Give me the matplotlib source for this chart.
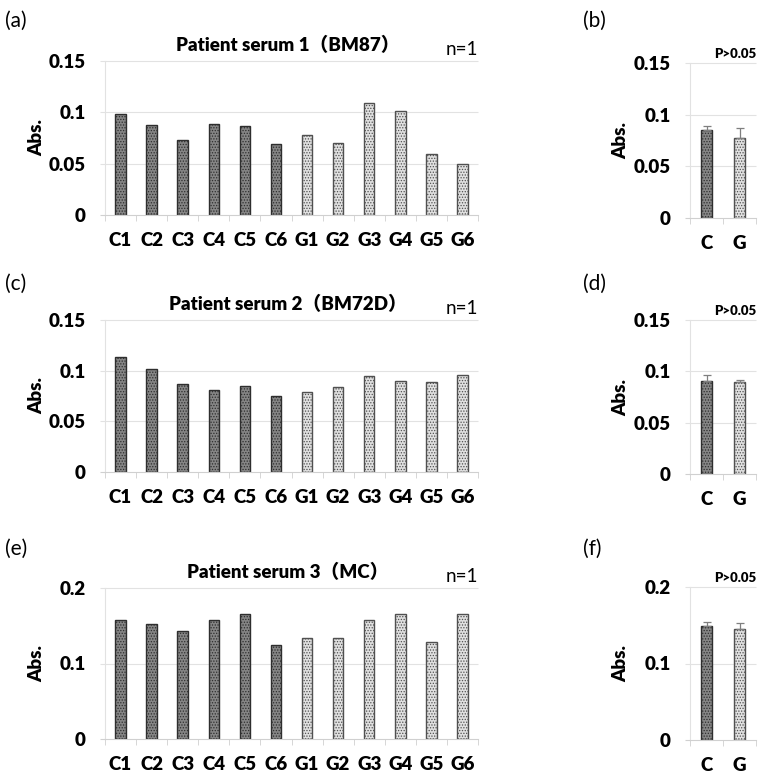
import numpy as np
import matplotlib
matplotlib.use('Agg')
import matplotlib.pyplot as plt

plt.rcParams['font.family'] = ['Lato', 'Noto Sans CJK JP', 'DejaVu Sans']
plt.rcParams['hatch.linewidth'] = 0.6

# well data (n=1 per well)
categories = ['C1', 'C2', 'C3', 'C4', 'C5', 'C6',
              'G1', 'G2', 'G3', 'G4', 'G5', 'G6']
serum1 = [0.098, 0.088, 0.073, 0.089, 0.087, 0.069,
          0.078, 0.070, 0.109, 0.101, 0.059, 0.050]
serum2 = [0.113, 0.102, 0.087, 0.081, 0.085, 0.075,
          0.079, 0.084, 0.095, 0.090, 0.089, 0.096]
serum3 = [0.158, 0.152, 0.143, 0.157, 0.166, 0.125,
          0.134, 0.134, 0.157, 0.166, 0.128, 0.165]
titles = ['Patient serum 1（BM87）', 'Patient serum 2（BM72D）',
          'Patient serum 3（MC）']

# group means with error bars
groups = ['C', 'G']
mean1 = [0.085, 0.0775]
err1 = [0.004, 0.0095]
mean2 = [0.091, 0.0895]
err2 = [0.005, 0.002]
mean3 = [0.149, 0.145]
err3 = [0.005, 0.008]

ymax = [0.15, 0.15, 0.2]
ystep = [0.05, 0.05, 0.1]
panel_labels = [('(a)', '(b)'), ('(c)', '(d)'), ('(e)', '(f)')]

W, H = 761, 782
wide_x = (105, 478)
narrow_x = (690, 756)
wide_y = [(61, 215), (320, 472), (588, 739)]
narrow_y = [(63, 218), (320, 474), (587, 740)]
label_y = [21, 284, 549]

C_FACE, C_EDGE = '#858585', '#2e2e2e'
G_FACE, G_EDGE = '#e0e0e0', '#505050'
GRID = '#e2e2e2'
BOLD = 'heavy'


def rect(x, y):
    return [x[0] / W, 1 - y[1] / H, (x[1] - x[0]) / W, (y[1] - y[0]) / H]


def style_axes(ax, n, top, step, width_px):
    ax.set_xlim(-0.5, n - 0.5)
    ax.set_ylim(0, top)
    ticks = np.arange(0, top + 1e-9, step)
    ax.set_yticks(ticks)
    ax.set_yticklabels(['{:g}'.format(round(t, 3)) for t in ticks],
                       fontsize=13.5, fontweight=BOLD)
    ax.tick_params(axis='y', length=0, pad=14)
    for s in ['top', 'right']:
        ax.spines[s].set_visible(False)
    ax.spines['left'].set_color(GRID)
    ax.spines['bottom'].set_color('#d0d0d0')
    ax.spines['left'].set_linewidth(0.8)
    ax.hlines(ticks[1:], -5 / width_px, 1, transform=ax.get_yaxis_transform(),
              color=GRID, lw=0.8, clip_on=False, zorder=0)
    ax.hlines([0], -5 / width_px, 0, transform=ax.get_yaxis_transform(),
              color='#d0d0d0', lw=0.8, clip_on=False, zorder=0)
    ax.set_xticks(np.arange(-0.5, n), minor=True)
    ax.tick_params(axis='x', which='minor', length=4, color='#d0d0d0',
                   direction='out')
    ax.tick_params(axis='x', which='major', length=0, pad=12)


fig = plt.figure(figsize=(W / 100, H / 100), dpi=100)

rows = [(serum1, mean1, err1), (serum2, mean2, err2), (serum3, mean3, err3)]
for i, (vals, means, errs) in enumerate(rows):
    # per-well panel
    ax = fig.add_axes(rect(wide_x, wide_y[i]))
    faces = [C_FACE if c.startswith('C') else G_FACE for c in categories]
    edges = [C_EDGE if c.startswith('C') else G_EDGE for c in categories]
    xs = np.arange(len(categories))
    ax.bar(xs, vals, width=0.34, color=faces, edgecolor=edges,
           hatch='......', linewidth=1.0, zorder=2)
    style_axes(ax, len(categories), ymax[i], ystep[i], wide_x[1] - wide_x[0])
    ax.set_xticks(xs)
    ax.set_xticklabels(categories, fontsize=13.5, fontweight=BOLD)
    ax.set_ylabel('Abs.', fontsize=13.5, fontweight=BOLD)
    ax.yaxis.set_label_coords(-0.16, 0.5)
    ax.set_title(titles[i], fontsize=13.5, fontweight=BOLD, pad=7,
                 x=0.49)
    ax.text(1.0, 1.02, 'n=1', transform=ax.transAxes, ha='right',
            va='bottom', fontsize=13.5)
    fig.text(5 / W, 1 - label_y[i] / H, panel_labels[i][0], fontsize=15,
             va='center', ha='left')

    # group mean panel
    bx = fig.add_axes(rect(narrow_x, narrow_y[i]))
    gx = np.arange(len(groups))
    bx.bar(gx, means, width=0.33, color=[C_FACE, G_FACE],
           edgecolor=[C_EDGE, G_EDGE], hatch='......', linewidth=1.0, zorder=2)
    bx.errorbar(gx, means, yerr=[[0] * len(errs), errs], fmt='none',
                ecolor='#7f7f7f', elinewidth=0.9, capsize=3, capthick=0.9,
                zorder=3)
    style_axes(bx, len(groups), ymax[i], ystep[i], narrow_x[1] - narrow_x[0])
    bx.set_xticks(gx)
    bx.set_xticklabels(groups, fontsize=13.5, fontweight=BOLD)
    bx.set_ylabel('Abs.', fontsize=13.5, fontweight=BOLD)
    bx.yaxis.set_label_coords(-0.92, 0.5)
    bx.text(1.0, 1.02, 'P>0.05', transform=bx.transAxes, ha='right',
            va='bottom', fontsize=9.5, fontweight=BOLD)
    fig.text(583 / W, 1 - label_y[i] / H, panel_labels[i][1], fontsize=15,
             va='center', ha='left')

fig.savefig('out.png', dpi=100)
